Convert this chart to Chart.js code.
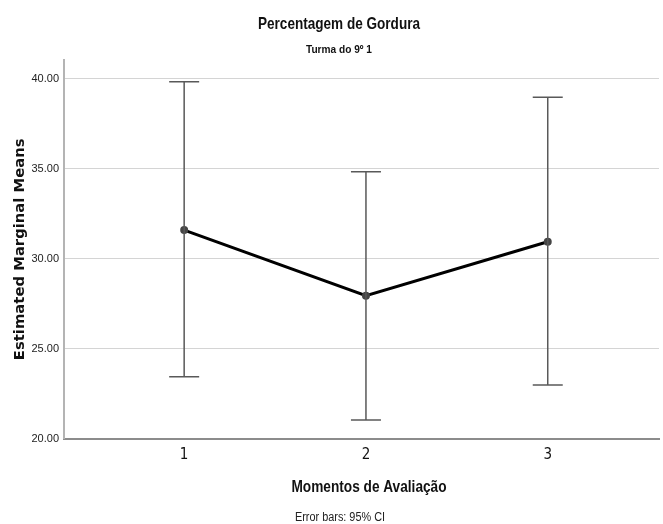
<!DOCTYPE html>
<html>
<head>
<meta charset="utf-8">
<script src="https://cdn.jsdelivr.net/npm/chart.js@4.4.1/dist/chart.umd.min.js"></script>
<style>
  html, body { margin: 0; padding: 0; background: #ffffff; }
  #wrap { position: relative; width: 663px; height: 524px; }
</style>
</head>
<body>
<div id="wrap"><canvas id="c" width="663" height="524"></canvas></div>
<script>
// ---- data ----
const categories = ['1', '2', '3'];
const means   = [31.58, 27.93, 30.93];
const ciLower = [23.43, 21.03, 22.97];
const ciUpper = [39.82, 34.82, 38.96];
const yTicks  = [20, 25, 30, 35, 40];

const titleText    = 'Percentagem de Gordura';
const subtitleText = 'Turma do 9º 1';
const xTitleText   = 'Momentos de Avaliação';
const yTitleText   = 'Estimated Marginal Means';
const footnoteText = 'Error bars: 95% CI';

const NARROW = '"Liberation Sans Narrow", "DejaVu Sans Condensed", "Arial Narrow", sans-serif';
const SANS = '"Liberation Sans", Arial, sans-serif';

const points = categories.map((c, i) => ({ x: i + 1, y: means[i] }));

const errorBarPlugin = {
  id: 'errorBars',
  afterDatasetsDraw(chart) {
    const { ctx, scales: { x, y } } = chart;
    ctx.save();
    ctx.strokeStyle = '#595959';
    ctx.lineWidth = 1.5;
    const cap = 15;
    categories.forEach((c, i) => {
      const px = x.getPixelForValue(i + 1);
      const pLo = y.getPixelForValue(ciLower[i]);
      const pHi = y.getPixelForValue(ciUpper[i]);
      ctx.beginPath();
      ctx.moveTo(px, pLo); ctx.lineTo(px, pHi);
      ctx.moveTo(px - cap, pLo); ctx.lineTo(px + cap, pLo);
      ctx.moveTo(px - cap, pHi); ctx.lineTo(px + cap, pHi);
      ctx.stroke();
    });
    ctx.restore();
  }
};

const textPlugin = {
  id: 'texts',
  afterDraw(chart) {
    const { ctx } = chart;
    ctx.save();
    ctx.fillStyle = '#111';
    ctx.textAlign = 'center';
    ctx.textBaseline = 'middle';
    ctx.font = 'bold 17px ' + SANS;
    ctx.fillText(titleText, 339, 24, 162);
    ctx.font = 'bold 11px ' + SANS;
    ctx.fillText(subtitleText, 339, 50, 66);
    ctx.font = 'bold 16px ' + SANS;
    ctx.fillText(xTitleText, 369, 488, 155);
    ctx.fillStyle = '#222';
    ctx.font = '12px ' + SANS;
    ctx.fillText(footnoteText, 340, 518, 90);
    ctx.restore();
  }
};

new Chart(document.getElementById('c'), {
  type: 'line',
  data: {
    datasets: [{
      data: points,
      borderColor: '#000000',
      borderWidth: 3,
      pointRadius: 4,
      pointBackgroundColor: '#454545',
      pointBorderColor: '#454545',
      pointBorderWidth: 0,
      tension: 0
    }]
  },
  options: {
    responsive: false,
    animation: false,
    layout: { padding: { top: 60, right: 0, bottom: 0, left: 0 } },
    plugins: {
      legend: { display: false },
      tooltip: { enabled: false },
      title: { display: false }
    },
    scales: {
      x: {
        type: 'linear',
        min: 0.339,
        max: 3.612,
        afterFit(scale) { scale.height = 85.5; },
        afterBuildTicks(scale) { scale.ticks = categories.map((c, i) => ({ value: i + 1 })); },
        grid: { display: false, drawTicks: false },
        border: { display: true, color: '#8c8c8c', width: 2 },
        ticks: {
          padding: 8,
          color: '#111',
          font: { family: NARROW, size: 15 },
          callback: (v) => categories[v - 1] ?? ''
        },
        title: { display: false }
      },
      y: {
        min: 20,
        max: 41.03,
        afterFit(scale) { scale.width = 64; },
        afterBuildTicks(scale) { scale.ticks = yTicks.map(v => ({ value: v })); },
        grid: { color: '#d4d4d4', lineWidth: 1, drawTicks: false },
        border: { display: true, color: '#b4b4b4', width: 2 },
        ticks: {
          padding: 5,
          color: '#222',
          font: { family: SANS, size: 11 },
          callback: (v) => Number(v).toFixed(2)
        },
        title: {
          display: true,
          text: yTitleText,
          color: '#111',
          font: { family: '"DejaVu Sans", Verdana, sans-serif', size: 14.8, weight: 'bold' },
          padding: { top: 11, bottom: 0 }
        }
      }
    }
  },
  plugins: [errorBarPlugin, textPlugin]
});
</script>
</body>
</html>
